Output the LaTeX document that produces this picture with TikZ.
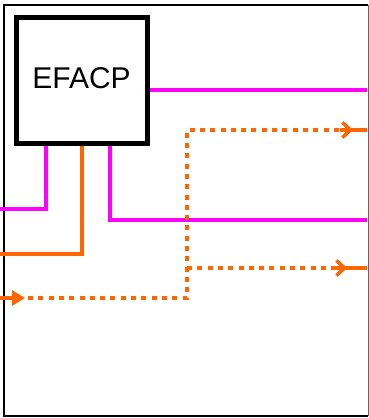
\documentclass[tikz,border=0pt]{standalone}
\usepackage{fontspec}
\setmainfont{Liberation Sans}
\usetikzlibrary{arrows.meta,positioning,calc}
\definecolor{sigmag}{HTML}{FF00FF}
\definecolor{sigorange}{HTML}{FF6600}
\tikzset{
  blockbox/.style={draw=black, line width=5pt, minimum width=131pt, minimum height=126pt, inner sep=0pt, font=\fontsize{30}{31}\selectfont},
  magline/.style={draw=sigmag, line width=4.5pt},
  orgline/.style={draw=sigorange, line width=4.5pt},
  orgdots/.style={draw=sigorange, line width=4.5pt, dash pattern=on 5pt off 5.3pt},
  barbtip/.style={-{Straight Barb[length=8pt,width=15pt,line width=3.5pt]}},
  filltip/.style={-{Triangle[length=13pt,width=15pt]}}
}

\begin{document}
\begin{tikzpicture}[x=1pt,y=-1pt]
\useasboundingbox (0,0) rectangle (369,418);
% frame
\draw[black, line width=2pt] (368,5) -- (4,5) -- (4,416) -- (368,416);
\draw[black!60, line width=1pt] (368,5) -- (368,416);
% block
\node[blockbox] (efacp) at (81.5,80) {\raisebox{3pt}{EFACP}};
% free ends
\coordinate (magout) at (367,90);
\coordinate (magin) at (0,209);
\coordinate (orgin) at (0,254);
\coordinate (magout2) at (367,220);
\coordinate (dotin) at (0,298);
\coordinate (dotjoin) at (187,298);
\coordinate (dotout) at (340,130);
\coordinate (dotout2) at (335,268);
\coordinate (dotedge) at (367,130);
\coordinate (dotedge2) at (367,268);
% signals
\draw[magline] (efacp.east |- magout) -- (magout);
\draw[magline] (efacp.south -| 46,0) -- (46,209) -- (magin);
\draw[orgline] (efacp.south -| 82,0) -- (82,254) -- (orgin);
\draw[magline] (efacp.south -| 110,0) -- (110,220) -- (magout2);
\draw[orgline, filltip] (dotin) -- (25,298);
\draw[orgdots] (28,298) -- (dotjoin) -- (187,130) -- (dotout);
\draw[orgdots] (187,268) -- (dotout2);
\draw[orgline] (dotout) -- (dotedge);
\draw[orgline] (dotout2) -- (dotedge2);
\draw[sigorange, barbtip] (dotout) -- (353,130);
\draw[sigorange, barbtip] (dotout2) -- (347,268);
\end{tikzpicture}
\end{document}
